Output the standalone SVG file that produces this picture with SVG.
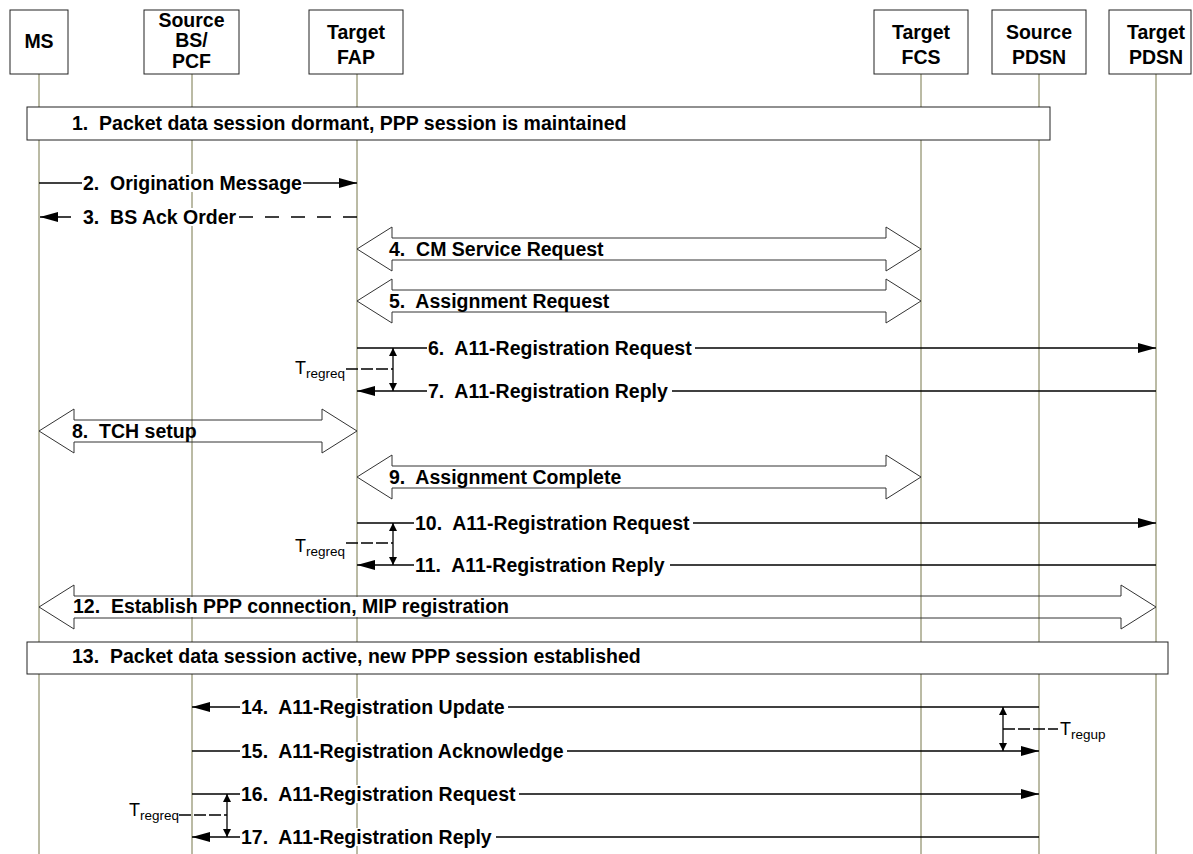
<svg xmlns="http://www.w3.org/2000/svg" width="1193" height="854" viewBox="0 0 1193 854" xml:space="preserve">
<style>
.t{font-family:"Liberation Sans",Arial,sans-serif;font-weight:bold;font-size:19.5px;fill:#000;white-space:pre}
.h{text-anchor:middle}
.tm{font-family:"Liberation Sans",Arial,sans-serif;font-size:18px;fill:#000}
.sub{font-size:13.5px}
.life{stroke:#77774a;stroke-width:1;fill:none}
.box{fill:#fff;stroke:#222;stroke-width:1}
.msg{stroke:#000;stroke-width:1.5;fill:none}
.dash{stroke-dasharray:14 12}
.blk{fill:none;stroke:#333;stroke-width:1}
.bg{fill:#fff}
.tmr{stroke:#000;stroke-width:1.3;fill:none}
.tmh{stroke:#000;stroke-width:1.3;fill:none;stroke-dasharray:12 3}
</style>
<defs>
<marker id="ah" viewBox="0 0 18 10" refX="18" refY="5" markerWidth="18" markerHeight="10" markerUnits="userSpaceOnUse" orient="auto"><path d="M0,0 L18,5 L0,10 Z" fill="#000"/></marker>
<marker id="sh" viewBox="0 0 8 8" refX="8" refY="4" markerWidth="8" markerHeight="8" markerUnits="userSpaceOnUse" orient="auto-start-reverse"><path d="M0,0 L8,4 L0,8 Z" fill="#000"/></marker>
</defs>
<rect width="1193" height="854" fill="#fff"/>

<g id="lifelines">
<line class="life" x1="39" y1="74" x2="39" y2="854"/>
<line class="life" x1="192" y1="74" x2="192" y2="854"/>
<line class="life" x1="357" y1="74" x2="357" y2="854"/>
<line class="life" x1="921" y1="74" x2="921" y2="854"/>
<line class="life" x1="1039" y1="74" x2="1039" y2="854"/>
<line class="life" x1="1156" y1="74" x2="1156" y2="854"/>
</g>

<g id="node-ms"><rect class="box" x="10" y="10" width="58" height="64"/><text class="t h" x="39" y="48">MS</text></g>
<g id="node-source-bs"><rect class="box" x="144" y="10" width="95" height="64"/><text class="t h" x="191.5" y="27">Source</text><text class="t h" x="191.5" y="47">BS/</text><text class="t h" x="191.5" y="68">PCF</text></g>
<g id="node-target-fap"><rect class="box" x="309" y="10" width="94" height="64"/><text class="t h" x="356" y="39">Target</text><text class="t h" x="356" y="64">FAP</text></g>
<g id="node-target-fcs"><rect class="box" x="874" y="10" width="94" height="64"/><text class="t h" x="921" y="39">Target</text><text class="t h" x="921" y="64">FCS</text></g>
<g id="node-source-pdsn"><rect class="box" x="992" y="10" width="94" height="64"/><text class="t h" x="1039" y="39">Source</text><text class="t h" x="1039" y="64">PDSN</text></g>
<g id="node-target-pdsn"><rect class="box" x="1109" y="10" width="82" height="64"/><text class="t h" x="1156" y="39">Target</text><text class="t h" x="1156" y="64">PDSN</text></g>

<g id="step1"><rect class="box" x="27" y="107" width="1023" height="33"/><text class="t" x="72" y="130">1.  Packet data session dormant, PPP session is maintained</text></g>
<g id="step13"><rect class="box" x="27" y="642" width="1141" height="32"/><text class="t" x="72" y="663">13.  Packet data session active, new PPP session established</text></g>

<g id="connectors">
<!-- 2 -->
<line class="msg" x1="39" y1="183" x2="357" y2="183" marker-end="url(#ah)"/>
<rect class="bg" x="82" y="174" width="221" height="18"/>
<text class="t" x="83" y="190">2.  Origination Message</text>
<!-- 3 -->
<path class="msg dash" d="M357,217 L40,217" marker-end="url(#ah)"/>
<rect class="bg" x="82" y="208" width="156" height="18"/>
<text class="t" x="83" y="224">3.  BS Ack Order</text>
<!-- 4 -->
<path class="blk" d="M357,249 L392,227 L392,238 L886,238 L886,227 L921,249 L886,271 L886,260 L392,260 L392,271 Z"/>
<text class="t" x="389" y="256">4.  CM Service Request</text>
<!-- 5 -->
<path class="blk" d="M357,301 L392,279 L392,290 L886,290 L886,279 L921,301 L886,323 L886,312 L392,312 L392,323 Z"/>
<text class="t" x="389" y="308">5.  Assignment Request</text>
<!-- 6 -->
<line class="msg" x1="357" y1="348" x2="1156" y2="348" marker-end="url(#ah)"/>
<rect class="bg" x="427" y="339" width="268" height="18"/>
<text class="t" x="428" y="355">6.  A11-Registration Request</text>
<!-- 7 -->
<line class="msg" x1="1156" y1="391" x2="357" y2="391" marker-end="url(#ah)"/>
<rect class="bg" x="427" y="382" width="245" height="18"/>
<text class="t" x="428" y="398">7.  A11-Registration Reply</text>
<!-- timer 6-7 -->
<line class="tmr" x1="393" y1="348" x2="393" y2="391" marker-start="url(#sh)" marker-end="url(#sh)"/>
<line class="tmh" x1="346" y1="369" x2="393" y2="369"/>
<text class="tm" x="295" y="374">T<tspan class="sub" dy="4">regreq</tspan></text>
<!-- 8 -->
<path class="blk" d="M39,431 L74,409 L74,420 L322,420 L322,409 L357,431 L322,453 L322,442 L74,442 L74,453 Z"/>
<text class="t" x="72" y="438">8.  TCH setup</text>
<!-- 9 -->
<path class="blk" d="M357,477 L392,455 L392,466 L886,466 L886,455 L921,477 L886,499 L886,488 L392,488 L392,499 Z"/>
<text class="t" x="389" y="484">9.  Assignment Complete</text>
<!-- 10 -->
<line class="msg" x1="357" y1="523" x2="1156" y2="523" marker-end="url(#ah)"/>
<rect class="bg" x="414" y="514" width="279" height="18"/>
<text class="t" x="415" y="530">10.  A11-Registration Request</text>
<!-- 11 -->
<line class="msg" x1="1156" y1="565" x2="357" y2="565" marker-end="url(#ah)"/>
<rect class="bg" x="414" y="556" width="256" height="18"/>
<text class="t" x="415" y="572">11.  A11-Registration Reply</text>
<!-- timer 10-11 -->
<line class="tmr" x1="393" y1="523" x2="393" y2="565" marker-start="url(#sh)" marker-end="url(#sh)"/>
<line class="tmh" x1="346" y1="543" x2="393" y2="543"/>
<text class="tm" x="295" y="552">T<tspan class="sub" dy="4">regreq</tspan></text>
<!-- 12 -->
<path class="blk" d="M39,607 L74,585 L74,596 L1121,596 L1121,585 L1156,607 L1121,629 L1121,618 L74,618 L74,629 Z"/>
<rect class="bg" x="74" y="597" width="450" height="20"/>
<text class="t" x="73" y="613">12.  Establish PPP connection, MIP registration</text>
<!-- 14 -->
<line class="msg" x1="1039" y1="707" x2="192" y2="707" marker-end="url(#ah)"/>
<rect class="bg" x="240" y="698" width="268" height="18"/>
<text class="t" x="241" y="714">14.  A11-Registration Update</text>
<!-- 15 -->
<line class="msg" x1="192" y1="751" x2="1039" y2="751" marker-end="url(#ah)"/>
<rect class="bg" x="240" y="742" width="327" height="18"/>
<text class="t" x="241" y="758">15.  A11-Registration Acknowledge</text>
<!-- timer 14-15 -->
<line class="tmr" x1="1003" y1="707" x2="1003" y2="751" marker-start="url(#sh)" marker-end="url(#sh)"/>
<line class="tmh" x1="1003" y1="729" x2="1058" y2="729"/>
<text class="tm" x="1060" y="735">T<tspan class="sub" dy="4">regup</tspan></text>
<!-- 16 -->
<line class="msg" x1="192" y1="794" x2="1039" y2="794" marker-end="url(#ah)"/>
<rect class="bg" x="240" y="785" width="279" height="18"/>
<text class="t" x="241" y="801">16.  A11-Registration Request</text>
<!-- 17 -->
<line class="msg" x1="1039" y1="837" x2="192" y2="837" marker-end="url(#ah)"/>
<rect class="bg" x="240" y="828" width="256" height="18"/>
<text class="t" x="241" y="844">17.  A11-Registration Reply</text>
<!-- timer 16-17 -->
<line class="tmr" x1="227" y1="794" x2="227" y2="837" marker-start="url(#sh)" marker-end="url(#sh)"/>
<line class="tmh" x1="179" y1="815" x2="227" y2="815"/>
<text class="tm" x="129" y="816">T<tspan class="sub" dy="4">regreq</tspan></text>
</g>
</svg>
